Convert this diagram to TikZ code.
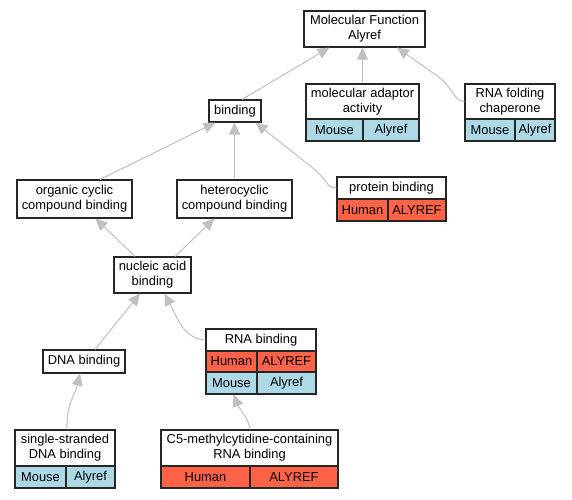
\documentclass[tikz,border=0pt]{standalone}
\usepackage{fontspec}
\setmainfont{Liberation Sans}
\usetikzlibrary{arrows.meta,calc}
\definecolor{human}{HTML}{FF6347}
\definecolor{mouse}{HTML}{ADD8E6}
\definecolor{edgegray}{HTML}{C0C0C0}
\begin{document}
\begin{tikzpicture}[x=1pt,y=-1pt,
  box/.style={draw=black!85, line width=1.1pt, fill=white, inner sep=0pt, align=center,
    font=\fontsize{12.9}{14.8}\selectfont},
  hbox/.style={box, fill=human},
  mbox/.style={box, fill=mouse},
  edge/.style={draw=edgegray, line width=1pt, -{Triangle[length=12pt,width=11pt]}}]
\useasboundingbox (0,0) rectangle (572,499);
\fill[white] (0,0) rectangle (572,499);
% nodes
\node[box, minimum width=121, minimum height=36] (MF) at (364.5,29) {Molecular Function\\Alyref};
\node[box, minimum width=52, minimum height=22] (binding) at (235,111) {binding};
\node[box, minimum width=113, minimum height=35] (mad) at (362.5,101.5) {molecular adaptor\\activity};
\node[mbox, minimum width=57, minimum height=22] (madm) at (334.5,130) {Mouse};
\node[mbox, minimum width=56, minimum height=22] (mada) at (391,130) {Alyref};
\node[box, minimum width=90, minimum height=35] (rfc) at (510,101.5) {RNA folding\\chaperone};
\node[mbox, minimum width=50, minimum height=22] (rfcm) at (490,130) {Mouse};
\node[mbox, minimum width=40, minimum height=22] (rfca) at (535,130) {Alyref};
\node[box, minimum width=115, minimum height=38] (occ) at (74.5,199) {organic cyclic\\compound binding};
\node[box, minimum width=115, minimum height=38] (hcc) at (234.5,199) {heterocyclic\\compound binding};
\node[box, minimum width=109, minimum height=22] (pb) at (391.5,188) {protein binding};
\node[hbox, minimum width=51, minimum height=22] (pbh) at (362.5,210) {Human};
\node[hbox, minimum width=58, minimum height=22] (pba) at (417,210) {ALYREF};
\node[box, minimum width=77, minimum height=36] (nab) at (152.5,275) {nucleic acid\\binding};
\node[box, minimum width=82, minimum height=23] (dna) at (84,361.5) {DNA binding};
\node[box, minimum width=110, minimum height=22] (rna) at (261,340) {RNA binding};
\node[hbox, minimum width=51, minimum height=21] (rnah) at (231.5,361.5) {Human};
\node[hbox, minimum width=59, minimum height=21] (rnaha) at (286.5,361.5) {ALYREF};
\node[mbox, minimum width=51, minimum height=22] (rnam) at (231.5,383) {Mouse};
\node[mbox, minimum width=59, minimum height=22] (rnama) at (286.5,383) {Alyref};
\node[box, minimum width=100, minimum height=36] (ss) at (65,448) {single-stranded\\DNA binding};
\node[mbox, minimum width=51, minimum height=22] (ssm) at (40.5,477) {Mouse};
\node[mbox, minimum width=49, minimum height=22] (ssa) at (90.5,477) {Alyref};
\node[box, minimum width=177, minimum height=36] (c5) at (249.5,448) {C5-methylcytidine-containing\\RNA binding};
\node[hbox, minimum width=89, minimum height=22] (c5h) at (205.5,477) {Human};
\node[hbox, minimum width=88, minimum height=22] (c5a) at (294,477) {ALYREF};
% edges
\draw[edge] ($(binding.north)+(7,0)$) -- ($(MF.south west)+(26,0)$);
\draw[edge] (mad.north) -- (mad.north |- MF.south);
\draw[edge] (rfc.west) .. controls (454,101.5) and (453,88) .. (440,78) -- ($(MF.south)+(32.5,0)$);
\draw[edge] ($(occ.north)+(25.5,0)$) -- ($(binding.south west)+(7,0)$);
\draw[edge] (hcc.north) -- (hcc.north |- binding.south);
\draw[edge] (pb.west) .. controls (326,188) and (326,178) .. (314,169) -- ($(binding.south east)+(-6,0)$);
\draw[edge] ($(nab.north)+(-17.5,0)$) -- ($(occ.south)+(21,0)$);
\draw[edge] ($(nab.north)+(22.5,0)$) -- ($(hcc.south)+(-20,0)$);
\draw[edge] ($(dna.north)+(11,0)$) -- ($(nab.south)+(-12.5,0)$);
\draw[edge] (rna.west) .. controls (193,340) and (184,331) .. (178,320) -- ($(nab.south)+(12,0)$);
\draw[edge] ($(ss.north)+(2,0)$) .. controls (66,405) and (75,395) .. ($(dna.south)+(-4,0)$);
\draw[edge] (c5.north) .. controls (250,420) and (240,410) .. ($(rnam.south)+(2,0)$);
\end{tikzpicture}
\end{document}
